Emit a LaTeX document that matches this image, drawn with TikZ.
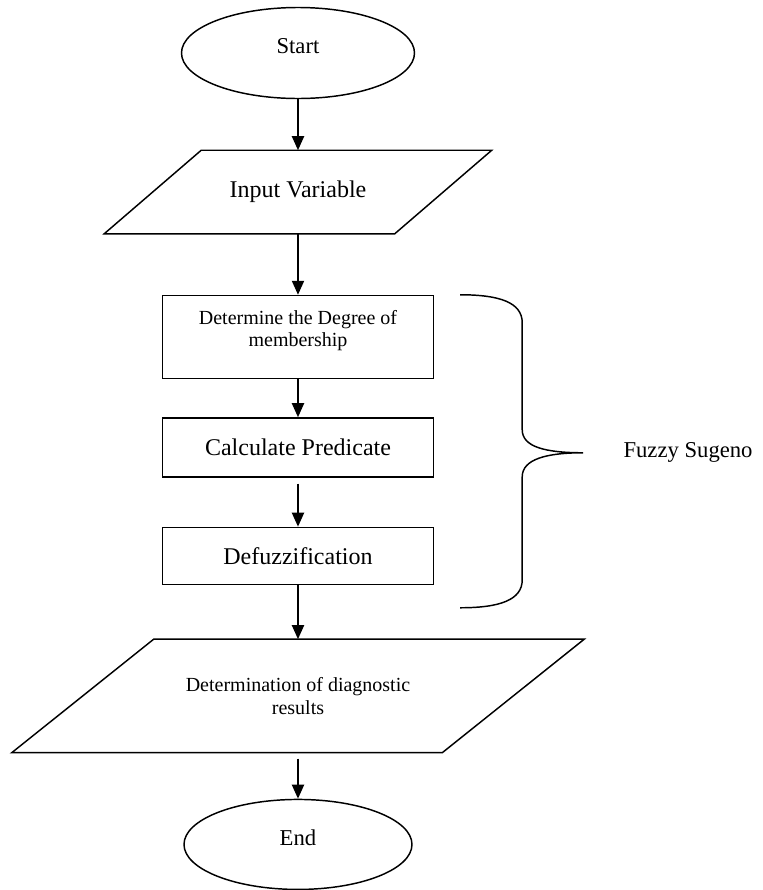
\documentclass[tikz,border=0pt]{standalone}
\usepackage{fontspec}
\setmainfont{Liberation Serif}
\usetikzlibrary{arrows.meta,positioning,shapes.geometric,calc}

\begin{document}
\begin{tikzpicture}[
    terminal/.style={draw,ellipse,line width=1.1pt,minimum width=174.75pt,minimum height=68.25pt,inner sep=0pt,text depth=10.5pt,font=\fontsize{17}{19}\selectfont},
    io/.style={rectangle,inner sep=0pt,align=center},
    proc/.style={draw,rectangle,line width=1.1pt,minimum width=203.25pt,inner sep=0pt,align=center},
    outline/.style={line width=1.1pt,line join=miter},
    bigtxt/.style={font=\fontsize{18}{20}\selectfont},
    smalltxt/.style={font=\fontsize{15}{17}\selectfont},
    arr/.style={-{Triangle[length=10.5pt,width=9pt]},line width=1.5pt},
    brace/.style={line width=1.1pt}
]
\useasboundingbox (-223.5pt,39.75pt) rectangle (348.75pt,-627.75pt);

\node[terminal] (start) {Start};
\node[io,bigtxt,below=38.25pt of start,minimum width=217.5pt,minimum height=62.25pt] (input) {Input Variable};
\node[proc,smalltxt,below=45.75pt of input,minimum height=62.25pt,text depth=13pt] (degree) {Determine the Degree of\\membership};
\node[proc,bigtxt,below=28.5pt of degree,minimum height=44.25pt] (predicate) {Calculate Predicate};
\node[proc,bigtxt,below=36.75pt of predicate,minimum height=42.75pt] (defuzz) {Defuzzification};
\node[io,smalltxt,below=40.5pt of defuzz,minimum width=322.5pt,minimum height=84.75pt] (result) {Determination of diagnostic\\results};
\node[terminal,below=34.5pt of result,minimum width=171pt,minimum height=67.5pt] (end) {End};

% slanted outlines of the two data nodes
\draw[outline] ($(input.north west)+(36.375pt,0)$) -- ($(input.north east)+(36.375pt,0)$)
    -- ($(input.south east)-(36.375pt,0)$) -- ($(input.south west)-(36.375pt,0)$) -- cycle;
\draw[outline] ($(result.north west)+(53.25pt,0)$) -- ($(result.north east)+(53.25pt,0)$)
    -- ($(result.south east)-(53.25pt,0)$) -- ($(result.south west)-(53.25pt,0)$) -- cycle;

\draw[arr] (start) -- (input);
\draw[arr] (input) -- (degree);
\draw[arr] (degree) -- (predicate);
\draw[arr,shorten <=4.5pt] (predicate) -- (defuzz);
\draw[arr] (defuzz) -- (result);
\draw[arr,shorten <=4.5pt] (result) -- (end);

% curly brace round the fuzzy steps
\coordinate (btop) at ($(degree.north east)+(19.5pt,0)$);
\draw[brace] (btop) .. controls +(30pt,0) and +(0,15pt) .. ++(46.5pt,-21pt)
    -- ++(0,-80.25pt) .. controls +(0,-13pt) and +(-28pt,0) .. ++(45.75pt,-17.25pt) coordinate (tip)
    .. controls +(-28pt,0) and +(0,13pt) .. ++(-45.75pt,-18pt)
    -- ++(0,-77.25pt) .. controls +(0,-15pt) and +(30pt,0) .. ++(-46.5pt,-21pt);
\node[right=30pt of tip,inner sep=0pt,font=\fontsize{17}{19}\selectfont] (fuzzy) {Fuzzy Sugeno};
\end{tikzpicture}
\end{document}
